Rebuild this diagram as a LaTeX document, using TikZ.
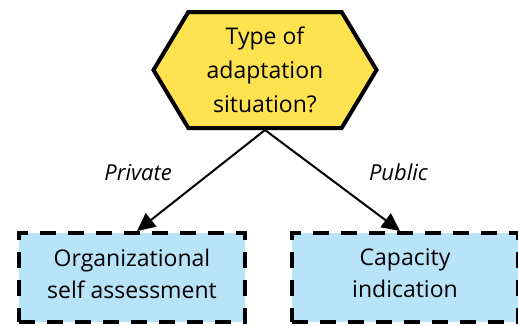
\documentclass[tikz,border=0pt]{standalone}
\usepackage{fontspec}
\setmainfont{Open Sans}
\usepackage{tikz}
\usetikzlibrary{shapes.symbols, arrows.meta, positioning}
\definecolor{hex-yellow}{RGB}{255,226,80}
\definecolor{box-blue}{RGB}{185,227,248}

\begin{document}
\begin{tikzpicture}[
    node distance=101pt,
    question/.style={signal, signal to=west and east, signal pointer angle=118, draw=black, line width=4pt, fill=hex-yellow, minimum width=223pt, minimum height=116pt, inner sep=0pt, align=center, font=\fontsize{23}{34}\selectfont},
    choice/.style={rectangle, draw=black, line width=4pt, dash pattern=on 16pt off 12pt, fill=box-blue, minimum width=226pt, minimum height=89pt, text depth=8pt, align=center, font=\fontsize{23}{32}\selectfont},
    arrow/.style={-{Triangle[length=18pt,width=17pt]}, line width=2pt},
    branch/.style={font=\fontsize{22}{26}\selectfont\itshape}
]
\useasboundingbox (0,0) rectangle (518pt,-325pt);

\node[question] (situation) at (265pt,-70pt) {Type of\\adaptation\\situation?};
\node[choice, below=of situation, xshift=-133pt] (assessment) {Organizational\\self assessment};
\node[choice, below=of situation, xshift=140pt] (capacity) {Capacity\\indication};

\draw[arrow] (situation.south) -- node[pos=0.42, left=35pt, branch] {Private} ([xshift=5pt]assessment.north);
\draw[arrow] (situation.south) -- node[pos=0.42, right=43pt, branch] {Public} ([xshift=-5pt]capacity.north);

\end{tikzpicture}
\end{document}
